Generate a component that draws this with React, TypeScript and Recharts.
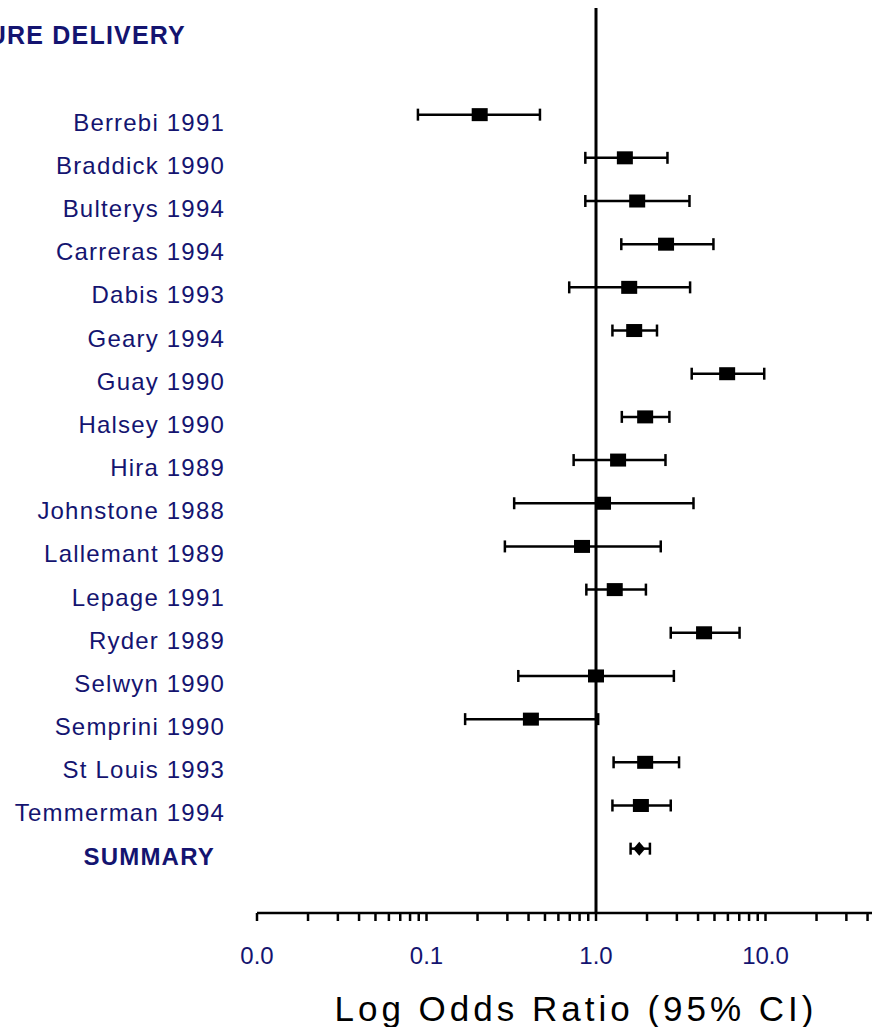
import { ComposedChart, Scatter, ErrorBar, XAxis, YAxis, ReferenceLine } from 'recharts'

const outcome = 'PREMATURE DELIVERY'

const studies = [
  'Berrebi 1991', 'Braddick 1990', 'Bulterys 1994', 'Carreras 1994', 'Dabis 1993',
  'Geary 1994', 'Guay 1990', 'Halsey 1990', 'Hira 1989', 'Johnstone 1988',
  'Lallemant 1989', 'Lepage 1991', 'Ryder 1989', 'Selwyn 1990', 'Semprini 1990',
  'St Louis 1993', 'Temmerman 1994',
]
const oddsRatios = [0.206, 1.48, 1.75, 2.59, 1.57, 1.68, 5.94, 1.95, 1.35, 1.1, 0.827, 1.29, 4.34, 1.0, 0.413, 1.95, 1.84]
const ciLow = [0.089, 0.865, 0.865, 1.41, 0.695, 1.25, 3.67, 1.42, 0.738, 0.329, 0.29, 0.877, 2.76, 0.348, 0.169, 1.27, 1.25]
const ciHigh = [0.467, 2.64, 3.56, 4.93, 3.59, 2.29, 9.83, 2.71, 2.57, 3.76, 2.41, 1.97, 7.03, 2.88, 1.03, 3.09, 2.76]

const summaryOR = 1.8
const summaryLow = 1.6
const summaryHigh = 2.08

const xTicks = [
  0.01, 0.02, 0.03, 0.04, 0.05, 0.06, 0.07, 0.08, 0.09,
  0.1, 0.2, 0.3, 0.4, 0.5, 0.6, 0.7, 0.8, 0.9,
  1, 2, 3, 4, 5, 6, 7, 8, 9,
  10, 20, 30, 40, 50, 60, 70, 80, 90, 100,
]
const xTickLabels: Record<string, string> = { '0.01': '0.0', '0.1': '0.1', '1': '1.0', '10': '10.0' }

// row 0 = outcome title, row 1 blank, then studies, then summary
const rowLabels = [outcome, '', ...studies, 'SUMMARY']
const rowTicks = rowLabels.map((_, i) => i).filter((i) => rowLabels[i] !== '')

const studyData = studies.map((name, i) => ({
  name,
  or: oddsRatios[i],
  row: i + 2,
  err: [oddsRatios[i] - ciLow[i], ciHigh[i] - oddsRatios[i]],
}))
const summaryData = [{
  name: 'SUMMARY',
  or: summaryOR,
  row: rowLabels.length - 1,
  err: [summaryOR - summaryLow, summaryHigh - summaryOR],
}]

const NAVY = '#141470'
const FONT = '"Liberation Sans", Arial, sans-serif'

function RowLabel({ x, y, payload }: any) {
  const i = payload.value
  const last = rowLabels.length - 1
  const bold = i === 0 || i === last
  const dx = i === 0 ? -39 : i === last ? -10 : 0
  return (
    <text
      x={x + dx}
      y={y + 16}
      textAnchor="end"
      fill={NAVY}
      fontSize={i === 0 ? 25 : 24}
      fontWeight={bold ? 'bold' : 'normal'}
      fontFamily={FONT}
      letterSpacing={1.2}
    >
      {rowLabels[i]}
    </text>
  )
}

function AxisTitle({ viewBox }: any) {
  if (!viewBox) return null
  return (
    <text
      x={viewBox.x + viewBox.width / 2 - 20}
      y={viewBox.y + viewBox.height - 6}
      textAnchor="middle"
      fill="#000"
      fontSize={35}
      fontFamily={FONT}
      letterSpacing={4}
    >
      Log Odds Ratio (95% CI)
    </text>
  )
}

const Square = ({ cx, cy }: any) => <rect x={cx - 8} y={cy - 6.5} width={16} height={13} fill="#000" />
const Diamond = ({ cx, cy }: any) => (
  <polygon points={`${cx - 6},${cy} ${cx},${cy - 7} ${cx + 6},${cy} ${cx},${cy + 7}`} fill="#000" />
)

export default function App() {
  return (
    <div style={{ position: 'absolute', left: 0, top: 0, width: 872, height: 1027, overflow: 'hidden', background: '#fff' }}>
      <ComposedChart width={945} height={1027} margin={{ top: 8, right: 10, left: 0, bottom: 0 }}>
        <XAxis
          dataKey="or"
          type="number"
          scale="log"
          domain={[0.01, 100]}
          allowDataOverflow
          ticks={xTicks}
          interval={0}
          tickFormatter={(v: number) => xTickLabels[String(v)] ?? ''}
          tick={{ fill: NAVY, fontSize: 24, fontFamily: FONT }}
          axisLine={{ stroke: '#000', strokeWidth: 2.5 }}
          tickLine={{ stroke: '#000', strokeWidth: 2.5 }}
          tickSize={8}
          tickMargin={26}
          height={114}
          label={<AxisTitle />}
        />
        <YAxis
          dataKey="row"
          type="number"
          domain={[-0.47, 20.49]}
          allowDataOverflow
          reversed
          ticks={rowTicks}
          interval={0}
          tick={<RowLabel />}
          axisLine={false}
          tickLine={false}
          tickSize={6}
          tickMargin={26}
          width={257}
        />
        <ReferenceLine x={1} stroke="#000" strokeWidth={3} />
        <Scatter data={studyData} shape={<Square />} isAnimationActive={false}>
          <ErrorBar dataKey="err" direction="x" width={6} stroke="#000" strokeWidth={2.5} isAnimationActive={false} />
        </Scatter>
        <Scatter data={summaryData} shape={<Diamond />} isAnimationActive={false}>
          <ErrorBar dataKey="err" direction="x" width={6} stroke="#000" strokeWidth={2.5} isAnimationActive={false} />
        </Scatter>
      </ComposedChart>
    </div>
  )
}
